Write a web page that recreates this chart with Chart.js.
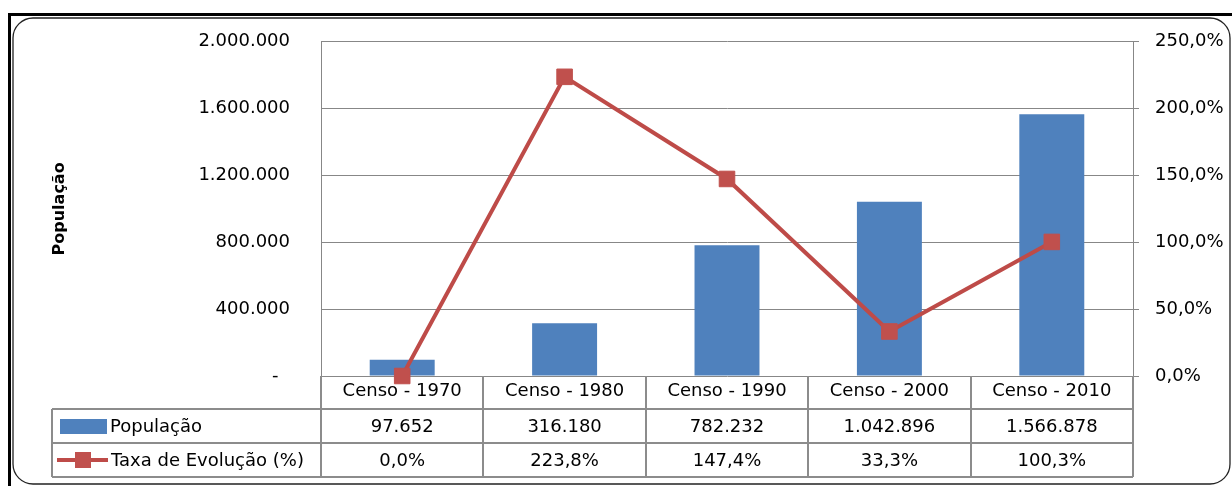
<!DOCTYPE html>
<html><head><meta charset="utf-8">
<script src="https://cdn.jsdelivr.net/npm/chart.js@4.4.1/dist/chart.umd.min.js"></script>
<style>html,body{margin:0;padding:0;background:#fff;}canvas{display:block}</style>
</head><body>
<canvas id="c" width="1232" height="486"></canvas>
<script>
const categories = ['Censo - 1970', 'Censo - 1980', 'Censo - 1990', 'Censo - 2000', 'Censo - 2010'];
const populacao = [97652, 316180, 782232, 1042896, 1566878];
const taxaEvolucao = [0.0, 223.8, 147.4, 33.3, 100.3];
const seriesNames = ['População', 'Taxa de Evolução (%)'];
const axisTitle = 'População';

const FONT = 'DejaVu Sans';
const GRID = '#878787';
const BAR = '#4F81BD';
const LINE = '#BE4B48';
const MARK = '#C0504D';

function fmtInt(n) { return String(Math.round(n)).replace(/\B(?=(\d{3})+(?!\d))/g, '.'); }
function fmtPct(v) { return v.toFixed(1).replace('.', ',') + '%'; }

const tablePlugin = {
  id: 'tablePlugin',
  beforeDraw(chart) {
    const ctx = chart.ctx;
    ctx.save();
    ctx.fillStyle = '#fff';
    ctx.fillRect(0, 0, chart.width, chart.height);
    // outer frame
    ctx.strokeStyle = '#000';
    ctx.lineWidth = 3;
    ctx.beginPath();
    ctx.moveTo(9.5, 500); ctx.lineTo(9.5, 14.5); ctx.lineTo(1240, 14.5);
    ctx.stroke();
    // inner rounded frame
    ctx.lineWidth = 1.3;
    ctx.strokeStyle = '#222';
    ctx.beginPath();
    ctx.roundRect(13, 18, 1217, 466, 20);
    ctx.stroke();
    ctx.restore();
  },
  beforeDatasetsDraw(chart) {
    const ctx = chart.ctx;
    const x = chart.scales.x;
    const n = categories.length;
    const cw = (x.right - x.left) / n;
    const top = chart.chartArea.bottom;
    const r1 = top + 33, r2 = top + 67, r3 = top + 101;
    const tableLeft = 52;
    ctx.save();
    ctx.strokeStyle = '#8c8c8c';
    ctx.lineWidth = 2;
    ctx.beginPath();
    for (let i = 0; i <= n; i++) {
      const bx = Math.round(x.left + i * cw) + 0;
      ctx.moveTo(bx, top); ctx.lineTo(bx, r3);
    }
    [r1, r2, r3].forEach(y => { ctx.moveTo(tableLeft, y); ctx.lineTo(x.right, y); });
    ctx.moveTo(tableLeft, r1); ctx.lineTo(tableLeft, r3);
    ctx.stroke();

    // legend keys
    ctx.fillStyle = BAR;
    ctx.fillRect(60, r1 + 10, 47, 15);
    ctx.strokeStyle = LINE;
    ctx.lineWidth = 4;
    ctx.beginPath();
    ctx.moveTo(57, (r2 + r3) / 2); ctx.lineTo(108, (r2 + r3) / 2);
    ctx.stroke();
    ctx.fillStyle = MARK;
    ctx.fillRect(75, (r2 + r3) / 2 - 8, 16, 16);

    ctx.fillStyle = '#000';
    ctx.font = '18px "' + FONT + '"';
    ctx.textBaseline = 'middle';
    ctx.textAlign = 'left';
    ctx.fillText(seriesNames[0], 110, (r1 + r2) / 2 + 1);
    ctx.fillText(seriesNames[1], 111, (r2 + r3) / 2 + 1);
    ctx.textAlign = 'center';
    for (let i = 0; i < n; i++) {
      const cx = x.getPixelForValue(i);
      ctx.fillText(fmtInt(populacao[i]), cx, (r1 + r2) / 2 + 1);
      ctx.fillText(fmtPct(taxaEvolucao[i]), cx, (r2 + r3) / 2 + 1);
    }
    ctx.restore();
  }
};

new Chart(document.getElementById('c'), {
  data: {
    labels: categories,
    datasets: [
      {
        type: 'line',
        label: seriesNames[1],
        data: taxaEvolucao,
        yAxisID: 'y1',
        borderColor: LINE,
        borderWidth: 4,
        pointStyle: 'rect',
        pointRadius: 11,
        pointBackgroundColor: MARK,
        pointBorderColor: MARK,
        pointBorderWidth: 1,
        tension: 0,
        clip: false,
        order: 0
      },
      {
        type: 'bar',
        label: seriesNames[0],
        data: populacao,
        yAxisID: 'y',
        backgroundColor: BAR,
        barPercentage: 0.4,
        categoryPercentage: 1.0,
        order: 1
      }
    ]
  },
  options: {
    responsive: false,
    animation: false,
    devicePixelRatio: 1,
    layout: { padding: { left: 46, right: 0, top: 41, bottom: 10 } },
    plugins: { legend: { display: false }, tooltip: { enabled: false } },
    scales: {
      x: {
        grid: { display: false, drawTicks: false },
        border: { display: false },
        ticks: { color: '#000', font: { family: FONT, size: 18 }, padding: 5, maxRotation: 0, autoSkip: false },
        afterFit(s) { s.height = 100; }
      },
      y: {
        position: 'left',
        min: 0, max: 2000000,
        ticks: {
          stepSize: 400000,
          color: '#000',
          font: { family: FONT, size: 18 },
          padding: 31,
          callback: v => v === 0 ? '-  ' : fmtInt(v)
        },
        grid: { color: GRID, lineWidth: 1, drawTicks: false },
        border: { display: true, color: GRID, width: 1 },
        title: { display: true, text: axisTitle, color: '#000', font: { family: FONT, size: 16, weight: 'bold' } },
        afterFit(s) { s.width = 275; }
      },
      y1: {
        position: 'right',
        min: 0, max: 250,
        ticks: {
          stepSize: 50,
          color: '#000',
          font: { family: FONT, size: 18 },
          padding: 16,
          callback: v => fmtPct(v)
        },
        grid: { drawOnChartArea: false, color: GRID, drawTicks: true, tickLength: 6, lineWidth: 1 },
        border: { display: true, color: GRID, width: 1 },
        afterFit(s) { s.width = 99; }
      }
    }
  },
  plugins: [tablePlugin]
});
</script>
</body></html>
